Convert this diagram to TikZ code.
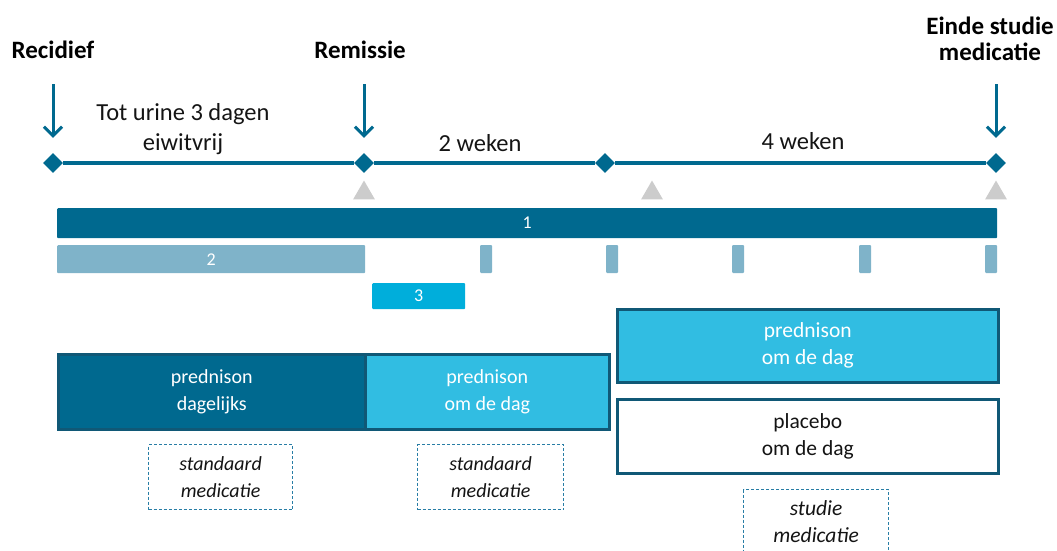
\documentclass[tikz,border=0pt]{standalone}
\usepackage{fontspec}
\setmainfont{Carlito}
\usetikzlibrary{arrows.meta,shapes.geometric}
\definecolor{dblue}{RGB}{0,105,143}
\definecolor{bord}{RGB}{16,88,118}
\definecolor{lbar}{RGB}{127,179,201}
\definecolor{cbar}{RGB}{0,174,219}
\definecolor{cbox}{RGB}{49,189,226}
\definecolor{tri}{RGB}{204,204,204}
\definecolor{dash}{RGB}{40,125,165}
\definecolor{txt}{RGB}{20,20,20}
\tikzset{
  big/.style={font=\fontsize{20}{27}\selectfont},
  bigger/.style={font=\fontsize{21.5}{27}\selectfont},
  period/.style={font=\fontsize{24.5}{30}\selectfont,text=txt,align=center},
  small/.style={font=\fontsize{18}{20}\selectfont},
  dmd/.style={diamond,fill=dblue,inner sep=0pt,minimum size=20},
  trimark/.style={regular polygon,regular polygon sides=3,fill=tri,inner sep=0pt,minimum size=25},
  bar/.style={inner sep=0pt,anchor=north west,text=white,small,rounded corners=1},
  medbox/.style={inner sep=0pt,anchor=north west,draw=bord,line width=2.6,big,align=center,text=white},
  dashbox/.style={inner sep=0pt,anchor=north west,draw=dash,dashed,dash pattern=on 3pt off 2pt,line width=1.2,align=center,text=txt,font=\fontsize{20}{27}\selectfont\itshape},
  evt/.style={font=\fontsize{25}{26}\selectfont\bfseries,align=center,text=black},
  darrow/.style={draw=dblue,line width=3,shorten >=15,-{Straight Barb[length=9,width=18,line width=3]}},
}
\begin{document}
\begin{tikzpicture}[x=1pt,y=-1pt]
\useasboundingbox (0,0) rectangle (1057,551);
% events
\node[evt] (rec) at (53,50) {Recidief};
\node[evt] (rem) at (360,50) {Remissie};
\node[evt] (eind) at (990,39) {Einde studie\\medicatie};
% diamonds
\node[dmd] (d1) at (53,163) {};
\node[dmd] (d2) at (364,163) {};
\node[dmd] (d3) at (605,163) {};
\node[dmd] (d4) at (996,163) {};
\draw[dblue,line width=4] (d1) -- (d2) -- (d3) -- (d4);
% arrows
\coordinate (a1) at (53,84);
\coordinate (a2) at (364,84);
\coordinate (a3) at (996,84);
\draw[darrow] (a1) -- (d1.north);
\draw[darrow] (a2) -- (d2.north);
\draw[darrow] (a3) -- (d4.north);
% period labels
\node[period] (p1) at (183,129) {Tot urine 3 dagen\\eiwitvrij};
\node[period] (p2) at (480,143) {2 weken};
\node[period] (p3) at (803,141) {4 weken};
% triangles
\node[trimark] (t1) at (364,193) {};
\node[trimark] (t2) at (652,193) {};
\node[trimark] (t3) at (996,193) {};
% bars
\node[bar,fill=dblue,minimum width=940,minimum height=30] (b1) at (57,208) {1};
\node[bar,fill=lbar,minimum width=308,minimum height=28] (b2) at (57,245) {2};
\foreach \x [count=\i] in {486,612,738,865,991}
  \node[fill=lbar,inner sep=0pt,minimum width=12,minimum height=28,rounded corners=1] (tk\i) at (\x,259) {};
\node[bar,fill=cbar,minimum width=93,minimum height=26] (b3) at (372,283) {3};
% medication boxes
\node[medbox,fill=dblue,minimum width=307,minimum height=75] (m1) at (57,353) {prednison\\dagelijks};
\node[medbox,fill=cbox,minimum width=244,minimum height=75] (m2) at (364,353) {prednison\\om de dag};
\node[medbox,fill=cbox,bigger,minimum width=381,minimum height=73] (m3) at (616,308) {prednison\\om de dag};
\node[medbox,fill=white,text=txt,bigger,minimum width=381,minimum height=74] (m4) at (616,398) {placebo\\om de dag};
% dashed labels
\node[dashbox,minimum width=144,minimum height=65] (s1) at (148,444) {standaard\\medicatie};
\node[dashbox,minimum width=146,minimum height=65] (s2) at (417,444) {standaard\\medicatie};
\node[dashbox,font=\fontsize{21.5}{27}\selectfont\itshape,minimum width=145,minimum height=65] (s3) at (743,489) {studie\\medicatie};
\end{tikzpicture}
\end{document}
